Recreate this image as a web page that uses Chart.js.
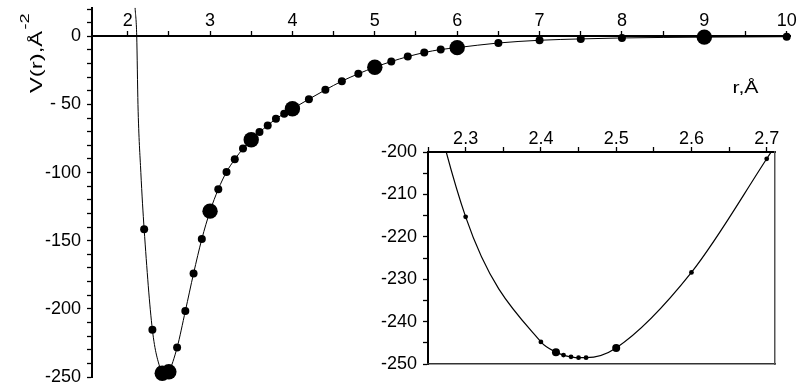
<!DOCTYPE html>
<html>
<head>
<meta charset="utf-8">
<script src="https://cdn.jsdelivr.net/npm/chart.js@4"></script>
<style>
  body { margin: 0; background: #fff; }
  #wrap { position: relative; width: 800px; height: 388px; }
  #mainChart { position: absolute; left: 0; top: 0; }
  #insetChart { position: absolute; left: 360px; top: 118px; }
</style>
</head>
<body>
<div id="wrap">
  <canvas id="mainChart" width="800" height="388"></canvas>
  <canvas id="insetChart" width="430" height="262"></canvas>
</div>
<script>
// Data (r in angstrom, V(r))
// big markers
var rBig = [2.42, 2.5, 3, 3.5, 4, 5, 6, 9];
var vBig = [-247.2, -246.2, -128.3, -75.9, -53.2, -22.7, -8.3, -0.6];

// small markers
var rSmall = [2.2, 2.3, 2.4, 2.43, 2.44, 2.45, 2.46, 2.6, 2.7, 2.8, 2.9,
  3.1, 3.2, 3.3, 3.4, 3.6, 3.7, 3.8, 3.9, 4.2, 4.4, 4.6, 4.8,
  5.2, 5.4, 5.6, 5.8, 6.5, 7, 7.5, 8, 10];
var vSmall = [-141.5, -215.3, -244.8, -247.9, -248.3, -248.5, -248.5, -228.4, -201.6, -174, -148.8,
  -112.2, -99.5, -90.3, -82.4, -70.3, -65.4, -60.5, -56.8, -46.1, -39.3, -32.9, -27.5,
  -18.5, -14.9, -11.9, -9.7, -4.9, -2.9, -1.9, -1.2, -0.3];

// where the thin curve runs up the repulsive wall (no markers there)
var rWall = [2.09, 2.11, 2.125, 2.16];
var vWall = [21, 0, -50, -100];

// tick labels
var mainXLabels = [2, 3, 4, 5, 6, 7, 8, 9, 10];
var mainYLabels = [0, -50, -100, -150, -200, -250];
var insetXLabels = [2.3, 2.4, 2.5, 2.6, 2.7];
var insetYLabels = [-200, -210, -220, -230, -240, -250];

function toPoints(xs, ys) {
  return xs.map(function (x, i) { return { x: x, y: ys[i] }; });
}

var bigPoints = toPoints(rBig, vBig);
var smallPoints = toPoints(rSmall, vSmall);
var curvePoints = toPoints(rWall, vWall).concat(bigPoints, smallPoints)
  .sort(function (a, b) { return a.x - b.x; });

function near(a, b) { return Math.abs(a - b) < 1e-6; }
function onStep(v, step) { return near(v / step, Math.round(v / step)); }

// no extra room for end labels, the chart area is set by layout padding
function noEndPadding(scale) {
  scale.paddingTop = 0;
  scale.paddingBottom = 0;
  scale.paddingLeft = 0;
  scale.paddingRight = 0;
}

Chart.defaults.font.family = '"Liberation Sans", Arial, sans-serif';
Chart.defaults.font.size = 18;
Chart.defaults.color = '#000';

// axis names drawn as text next to the axes
var axisNames = {
  id: 'axisNames',
  afterDraw: function (chart) {
    var ctx = chart.ctx;
    var x = chart.scales.x, y = chart.scales.y;
    ctx.save();
    ctx.fillStyle = '#000';
    ctx.textBaseline = 'alphabetic';

    // r,Å under the top axis on the right
    ctx.save();
    ctx.translate(x.getPixelForValue(9.5), y.getPixelForValue(-41.9));
    ctx.scale(1.25, 1);
    ctx.font = '17px "Liberation Sans", Arial, sans-serif';
    ctx.textAlign = 'center';
    ctx.fillText('r,Å', 0, 0);
    ctx.restore();

    // V(r),Å^-2 rotated on the left
    ctx.save();
    ctx.translate(42, 93);
    ctx.rotate(-Math.PI / 2);
    ctx.scale(1.4, 1);
    ctx.font = '17px "Liberation Sans", Arial, sans-serif';
    ctx.textAlign = 'left';
    ctx.fillText('V(r),Å', 0, 0);
    var w = ctx.measureText('V(r),Å').width;
    ctx.font = '13px "Liberation Sans", Arial, sans-serif';
    ctx.fillText('-2', w + 1, -13);
    ctx.restore();

    ctx.restore();
  }
};

// Main chart
var mainChart = new Chart(document.getElementById('mainChart'), {
  type: 'scatter',
  data: {
    datasets: [
      {
        label: 'big',
        data: bigPoints,
        pointRadius: 7.7,
        pointBackgroundColor: '#000',
        pointBorderWidth: 0,
        clip: false
      },
      {
        label: 'small',
        data: smallPoints,
        pointRadius: 4,
        pointBackgroundColor: '#000',
        pointBorderWidth: 0,
        clip: false
      },
      {
        label: 'curve',
        data: curvePoints,
        showLine: true,
        borderColor: '#000',
        borderWidth: 1,
        pointRadius: 0,
        cubicInterpolationMode: 'monotone'
      }
    ]
  },
  options: {
    responsive: false,
    animation: false,
    events: [],
    layout: { padding: { left: 0, top: 7, right: 10, bottom: 11 } },
    plugins: { legend: { display: false }, tooltip: { enabled: false } },
    scales: {
      x: {
        type: 'linear',
        position: { y: 0 },
        min: 1.567,
        max: 10.04,
        afterFit: noEndPadding,
        afterBuildTicks: function (scale) {
          scale.ticks = scale.ticks.filter(function (t) { return onStep(t.value, 0.5); });
        },
        grid: { drawOnChartArea: false, tickLength: -6, tickColor: '#000', tickWidth: 1.3 },
        border: { color: '#000', width: 2 },
        ticks: {
          stepSize: 0.5,
          includeBounds: false,
          padding: -20,
          autoSkip: false,
          maxRotation: 0,
          callback: function (value) {
            return mainXLabels.some(function (v) { return near(v, value); }) ? String(value) : '';
          }
        }
      },
      y: {
        type: 'linear',
        min: -250,
        max: 21,
        afterFit: function (scale) {
          scale.width = 92;
          noEndPadding(scale);
        },
        afterBuildTicks: function (scale) {
          scale.ticks = scale.ticks.filter(function (t) { return onStep(t.value, 10); });
        },
        grid: { drawOnChartArea: false, tickLength: 5, tickColor: '#000', tickWidth: 1.3 },
        border: { color: '#000', width: 2 },
        ticks: {
          stepSize: 10,
          includeBounds: false,
          padding: 6,
          autoSkip: false,
          callback: function (value) {
            if (!mainYLabels.some(function (v) { return near(v, value); })) return '';
            return value === -50 ? '- 50' : String(value);
          }
        }
      }
    }
  },
  plugins: [axisNames]
});

// Inset: zoom on the well bottom
var insetChart = new Chart(document.getElementById('insetChart'), {
  type: 'scatter',
  data: {
    datasets: [
      {
        label: 'big',
        data: bigPoints,
        pointRadius: 4,
        pointBackgroundColor: '#000',
        pointBorderWidth: 0
      },
      {
        label: 'small',
        data: smallPoints,
        pointRadius: 2.4,
        pointBackgroundColor: '#000',
        pointBorderWidth: 0
      },
      {
        label: 'curve',
        data: curvePoints,
        showLine: true,
        borderColor: '#000',
        borderWidth: 1.2,
        pointRadius: 0,
        cubicInterpolationMode: 'monotone'
      }
    ]
  },
  options: {
    responsive: false,
    animation: false,
    events: [],
    layout: { padding: { left: 0, top: 0, right: 15, bottom: 16 } },
    plugins: { legend: { display: false }, tooltip: { enabled: false } },
    scales: {
      x: {
        type: 'linear',
        position: 'top',
        min: 2.25,
        max: 2.711,
        afterFit: function (scale) {
          scale.height = 34;
          noEndPadding(scale);
        },
        afterBuildTicks: function (scale) {
          scale.ticks = scale.ticks.filter(function (t) { return onStep(t.value, 0.05); });
        },
        grid: { drawOnChartArea: false, tickLength: 5, tickColor: '#000', tickWidth: 1.3 },
        border: { color: '#000', width: 2 },
        ticks: {
          stepSize: 0.05,
          includeBounds: false,
          padding: -3,
          autoSkip: false,
          maxRotation: 0,
          callback: function (value) {
            return insetXLabels.some(function (v) { return near(v, value); }) ? value.toFixed(1) : '';
          }
        }
      },
      y: {
        type: 'linear',
        min: -250,
        max: -200,
        afterFit: function (scale) {
          scale.width = 68;
          noEndPadding(scale);
        },
        afterBuildTicks: function (scale) {
          scale.ticks = scale.ticks.filter(function (t) { return onStep(t.value, 5); });
        },
        grid: { drawOnChartArea: false, tickLength: 5, tickColor: '#000', tickWidth: 1.3 },
        border: { color: '#000', width: 2 },
        ticks: {
          stepSize: 5,
          padding: 6,
          autoSkip: false,
          callback: function (value) {
            return insetYLabels.some(function (v) { return near(v, value); }) ? String(value) : '';
          }
        }
      },
      x2: {
        type: 'linear',
        position: 'bottom',
        afterFit: function (scale) {
          scale.height = 0;
          noEndPadding(scale);
        },
        grid: { drawOnChartArea: false, drawTicks: false },
        border: { color: '#333', width: 1.5 },
        ticks: { display: false }
      },
      y2: {
        type: 'linear',
        position: 'right',
        afterFit: function (scale) {
          scale.width = 0;
          noEndPadding(scale);
        },
        grid: { drawOnChartArea: false, drawTicks: false },
        border: { color: '#555', width: 1.5 },
        ticks: { display: false }
      }
    }
  }
});
</script>
</body>
</html>
